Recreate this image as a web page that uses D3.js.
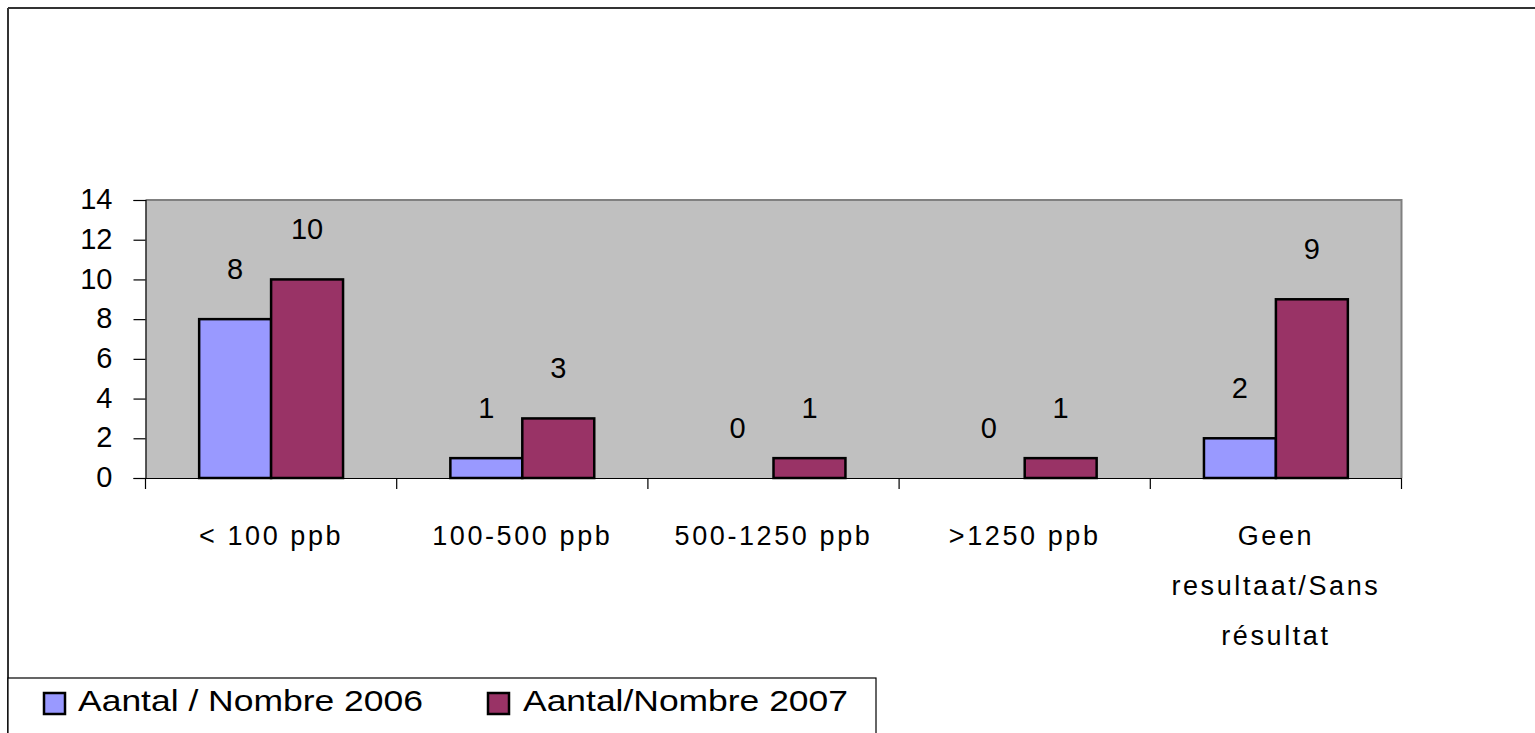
<!DOCTYPE html>
<html><head><meta charset="utf-8">
<script src="https://cdn.jsdelivr.net/npm/d3@7"></script>
<style>body{margin:0;background:#fff;}svg{display:block;}text{font-family:"Liberation Sans",Arial,sans-serif;fill:#000;}</style>
</head><body>
<script>
const categories = [["< 100 ppb"],["100-500 ppb"],["500-1250 ppb"],[">1250 ppb"],["Geen","resultaat/Sans","résultat"]];
const seriesNames = ["Aantal / Nombre 2006","Aantal/Nombre 2007"];
const values2006 = [8,1,0,0,2];
const values2007 = [10,3,1,1,9];
const yTicks = [0,2,4,6,8,10,12,14];
const colors = ["#9999FF","#993366"];

const W=1535,H=733;
const svg=d3.select("body").append("svg").attr("width",W).attr("height",H);

// outer frame
svg.append("line").attr("x1",8).attr("x2",W).attr("y1",8).attr("y2",8).attr("stroke","#333").attr("stroke-width",2);
svg.append("line").attr("x1",8).attr("x2",8).attr("y1",8).attr("y2",H).attr("stroke","#333").attr("stroke-width",2);

const pl=145.5, pr=1401.5, pt=200, pb=478;
const x=d3.scaleBand().domain(d3.range(categories.length)).range([pl,pr]).paddingInner(0).paddingOuter(0);
const bw=x.bandwidth();
const gap=bw*0.2136;
const xs=d3.scaleBand().domain([0,1]).range([gap,bw-gap]).padding(0);
const y=d3.scaleLinear().domain([0,14]).range([pb,pt]);

// plot area
svg.append("rect").attr("x",pl).attr("y",pt).attr("width",pr-pl).attr("height",pb-pt).attr("fill","#C0C0C0");
svg.append("path").attr("d",`M${pl},${pt}H${pr}V${pb}`).attr("fill","none").attr("stroke","#808080").attr("stroke-width",2);

// axes
const yAxis=svg.append("g").attr("transform",`translate(${pl},0)`)
  .call(d3.axisLeft(y).tickValues(yTicks).tickSize(12).tickPadding(21));
yAxis.select(".domain").attr("stroke","#000").attr("stroke-width",1.2);
yAxis.selectAll(".tick line").attr("stroke","#000").attr("stroke-width",1.2);
yAxis.selectAll(".tick text").attr("font-size",29).attr("font-family","Liberation Sans").attr("dy","0.3em").attr("fill","#000");

const xAxis=svg.append("g").attr("transform",`translate(0,${pb})`)
  .call(d3.axisBottom(x).tickValues([]).tickSizeOuter(0));
xAxis.select(".domain").attr("stroke","#000").attr("stroke-width",1.2);
const bounds=d3.range(categories.length+1).map(i=>i<categories.length?x(i):x(categories.length-1)+bw);
xAxis.selectAll("line.b").data(bounds).enter().append("line").attr("class","b")
  .attr("x1",d=>d).attr("x2",d=>d).attr("y1",0).attr("y2",11).attr("stroke","#000").attr("stroke-width",1.2);

// category labels
categories.forEach((lines,i)=>{
  const t=svg.append("text").attr("x",x(i)+bw/2).attr("y",545).attr("text-anchor","middle")
    .attr("font-size",27).attr("letter-spacing","2.6px");
  lines.forEach((l,j)=>t.append("tspan").attr("x",x(i)+bw/2).attr("y",545+j*50).text(l));
});

// bars
const series=[values2006,values2007];
series.forEach((vals,s)=>{
  const g=svg.append("g");
  g.selectAll("rect").data(vals).enter().append("rect")
    .attr("x",(d,i)=>x(i)+xs(s)).attr("width",xs.bandwidth())
    .attr("y",d=>y(d)).attr("height",d=>pb-y(d))
    .attr("fill",colors[s]).attr("stroke","#000").attr("stroke-width",2.5)
    .style("display",d=>d===0?"none":null);
  g.selectAll("text").data(vals).enter().append("text")
    .attr("x",(d,i)=>x(i)+xs(s)+xs.bandwidth()/2).attr("y",d=>y(d)-40)
    .attr("text-anchor","middle").attr("font-size",29).text(d=>d);
});

// legend
svg.append("rect").attr("x",8).attr("y",678).attr("width",868).attr("height",70).attr("fill","#fff").attr("stroke","#000").attr("stroke-width",1.2);
const lx=[44,488], tx=[78,523], tw=[345,325];
seriesNames.forEach((n,i)=>{
  svg.append("rect").attr("x",lx[i]).attr("y",693).attr("width",21).attr("height",21).attr("fill",colors[i]).attr("stroke","#000").attr("stroke-width",2.5);
  svg.append("text").attr("x",tx[i]).attr("y",711).attr("font-size",29.5)
    .attr("textLength",tw[i]).attr("lengthAdjust","spacingAndGlyphs").text(n);
});
</script>
</body></html>
